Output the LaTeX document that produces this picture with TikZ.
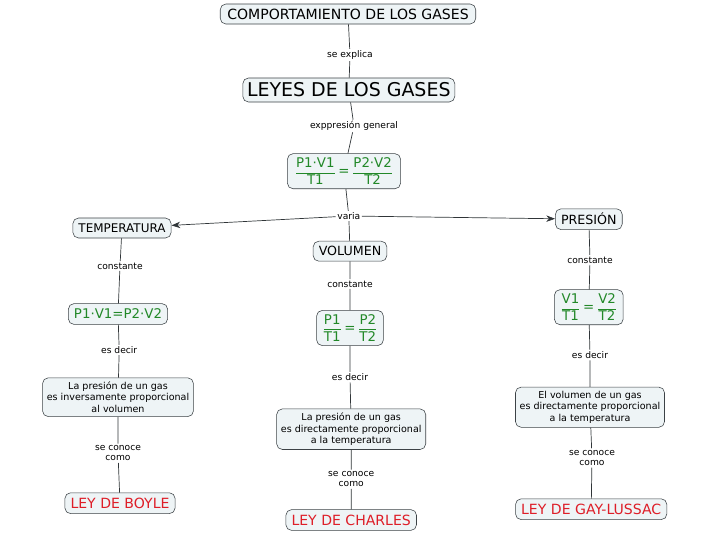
\documentclass[tikz,border=0pt]{standalone}
\usepackage{amsmath,amssymb}
\usepackage{fontspec}
\setmainfont{DejaVu Sans}
\usepackage{tikz}
\usetikzlibrary{positioning,arrows.meta,calc}
\usepackage{xcolor}
\definecolor{boxfill}{RGB}{238,244,246}
\definecolor{boxline}{RGB}{60,66,70}
\definecolor{eqgreen}{RGB}{34,136,40}
\definecolor{leyred}{RGB}{222,30,40}

\begin{document}
\begin{tikzpicture}[>={Stealth[length=2.2mm,width=1.6mm]},
  concept/.style={draw=boxline,rounded corners=4pt,fill=boxfill,inner sep=3pt,align=center,font=\fontsize{7.5}{9}\selectfont},
  link/.style={inner sep=1pt,align=center,font=\fontsize{6.5}{7.5}\selectfont},
  conn/.style={draw=boxline!80!black,line width=0.5pt}]
\useasboundingbox (0,0) rectangle (18,-13.5);
\node[concept,font=\fontsize{10}{11}\selectfont,minimum height=0.5cm,inner xsep=5pt] (comp) at (8.7,-0.35) {COMPORTAMIENTO DE LOS GASES};
\node[link] (explica) at (8.75,-1.375) {se explica};
\node[concept,font=\fontsize{13.5}{15}\selectfont,minimum height=0.6cm] (leyes) at (8.72,-2.25) {LEYES DE LOS GASES};
\node[link] (expr) at (8.85,-3.15) {exppresión general};
\node[concept,text=eqgreen,font=\fontsize{9.5}{11}\selectfont,inner xsep=5pt] (general) at (8.6,-4.28) {$\dfrac{\text{P1·V1}}{\text{T1}}\,\text{=}\,\dfrac{\text{P2·V2}}{\text{T2}}$};
\node[link] (varia) at (8.72,-5.4) {varia};
\node[concept,font=\fontsize{8.5}{10}\selectfont,minimum height=0.5cm,inner xsep=4pt] (temp) at (3.05,-5.7) {TEMPERATURA};
\node[concept,font=\fontsize{9}{10.5}\selectfont,minimum height=0.5cm,inner xsep=4pt] (vol) at (8.75,-6.28) {VOLUMEN};
\node[concept,font=\fontsize{9}{10.5}\selectfont,minimum height=0.52cm,inner xsep=4pt] (pres) at (14.72,-5.48) {PRESIÓN};
% tres ramas
\node[link] (constA) at (3.0,-6.65) {constante};
\node[link] (constB) at (8.75,-7.1) {constante};
\node[link] (constC) at (14.75,-6.5) {constante};
\node[concept,text=eqgreen,font=\fontsize{9.5}{11}\selectfont,minimum height=0.52cm,inner xsep=4pt] (fboyle) at (2.95,-7.85) {P1·V1=P2·V2};
\node[concept,text=eqgreen,font=\fontsize{9.5}{11}\selectfont,inner xsep=4pt] (fcharles) at (8.75,-8.2) {$\dfrac{\text{P1}}{\text{T1}}\,\text{=}\,\dfrac{\text{P2}}{\text{T2}}$};
\node[concept,text=eqgreen,font=\fontsize{9.5}{11}\selectfont,inner xsep=4pt] (fgay) at (14.72,-7.68) {$\dfrac{\text{V1}}{\text{T1}}\,\text{=}\,\dfrac{\text{V2}}{\text{T2}}$};
\node[link] (decirA) at (2.98,-8.75) {es decir};
\node[link] (decirB) at (8.75,-9.43) {es decir};
\node[link] (decirC) at (14.75,-8.88) {es decir};
\node[concept,font=\fontsize{6.8}{8}\selectfont] (tboyle) at (2.95,-9.93) {La presión de un gas\\es inversamente proporcional\\al volumen};
\node[concept,font=\fontsize{6.8}{8}\selectfont] (tcharles) at (8.78,-10.73) {La presión de un gas\\es directamente proporcional\\a la temperatura};
\node[concept,font=\fontsize{6.8}{8}\selectfont] (tgay) at (14.75,-10.18) {El volumen de un gas\\es directamente proporcional\\a la temperatura};
\node[link] (conoceA) at (2.95,-11.33) {se conoce\\como};
\node[link] (conoceB) at (8.78,-11.98) {se conoce\\como};
\node[link] (conoceC) at (14.8,-11.45) {se conoce\\como};
\node[concept,text=leyred,font=\fontsize{10}{11}\selectfont,minimum height=0.52cm,inner xsep=4pt] (boyle) at (3.0,-12.58) {LEY DE BOYLE};
\node[concept,text=leyred,font=\fontsize{10}{11}\selectfont,minimum height=0.52cm,inner xsep=4pt] (charles) at (8.78,-13.0) {LEY DE CHARLES};
\node[concept,text=leyred,font=\fontsize{10}{11}\selectfont,minimum height=0.52cm,inner xsep=4pt] (gay) at (14.78,-12.73) {LEY DE GAY-LUSSAC};
% conectores
\draw[conn] (comp) -- (explica) -- (leyes);
\draw[conn] (leyes) -- (expr) -- (general);
\draw[conn] (general) -- (varia);
\draw[conn,->] (varia) -- (temp);
\draw[conn,->] (varia) -- (pres);
\draw[conn] (varia) -- (vol);
\draw[conn] (temp) -- (constA) -- (fboyle) -- (decirA) -- (tboyle) -- (conoceA) -- (boyle);
\draw[conn] (vol) -- (constB) -- (fcharles) -- (decirB) -- (tcharles) -- (conoceB) -- (charles);
\draw[conn] (pres) -- (constC) -- (fgay) -- (decirC) -- (tgay) -- (conoceC) -- (gay);
\end{tikzpicture}
\end{document}
